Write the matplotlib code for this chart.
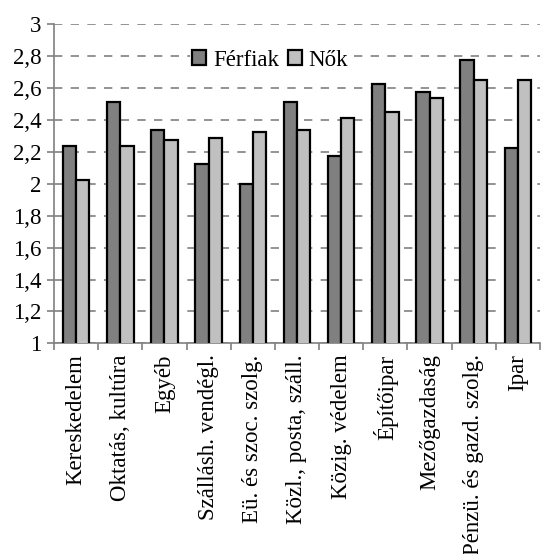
import numpy as np
import matplotlib
matplotlib.use("Agg")
import matplotlib.pyplot as plt
from matplotlib.ticker import FixedLocator, FuncFormatter

plt.rcParams["font.family"] = ["Liberation Serif", "DejaVu Serif"]

# adatok
categories = ["Kereskedelem", "Oktatás, kultúra", "Egyéb", "Szállásh. vendégl.",
              "Eü. és szoc. szolg.", "Közl., posta, száll.", "Közig. védelem",
              "Építőipar", "Mezőgazdaság", "Pénzü. és gazd. szolg.", "Ipar"]
ferfiak = [2.24, 2.515, 2.34, 2.125, 2.0, 2.515, 2.175, 2.625, 2.575, 2.775, 2.225]
nok = [2.025, 2.24, 2.275, 2.29, 2.325, 2.34, 2.415, 2.45, 2.54, 2.65, 2.65]
yticks = [1, 1.2, 1.4, 1.6, 1.8, 2, 2.2, 2.4, 2.6, 2.8, 3]

fs = 16.5

fig = plt.figure(figsize=(5.44, 5.54), dpi=100)
ax = fig.add_axes([0.0993, 0.3803, 0.8933, 0.5758])

x = np.arange(len(categories))
w = 0.3
ax.bar(x - w / 2, ferfiak, w, bottom=0, color="#808080", edgecolor="black",
       linewidth=1.6, label="Férfiak", zorder=3)
ax.bar(x + w / 2, nok, w, bottom=0, color="#c0c0c0", edgecolor="black",
       linewidth=1.6, label="Nők", zorder=3)

ax.set_ylim(1, 3)
ax.set_xlim(-0.5, len(categories) - 0.5)
ax.set_yticks(yticks)
ax.yaxis.set_major_formatter(FuncFormatter(lambda v, p: f"{v:g}".replace(".", ",")))
ax.yaxis.grid(True, linestyle=(0, (5, 5)), color="#808080", linewidth=1.2, zorder=0)
ax.set_axisbelow(True)

ax.set_xticks(x)
ax.set_xticklabels(categories, rotation=90, fontsize=fs)
ax.xaxis.set_minor_locator(FixedLocator(np.arange(-0.5, len(categories), 1)))
ax.tick_params(axis="x", which="major", length=0, pad=8)
ax.tick_params(axis="x", which="minor", length=5, color="#808080", width=1.2)
ax.tick_params(axis="y", length=5, color="#808080", width=1.2, labelsize=fs, pad=4)

for s in ["top", "right"]:
    ax.spines[s].set_visible(False)
for s in ["left", "bottom"]:
    ax.spines[s].set_color("#808080")
    ax.spines[s].set_linewidth(1.2)

leg = ax.legend(loc="center", bbox_to_anchor=(0.445, 0.8875), ncol=2, frameon=True,
                fontsize=fs, handlelength=0.6, handleheight=0.6, handletextpad=0.3,
                columnspacing=0.4, borderpad=0.1, borderaxespad=0)
leg.get_frame().set_edgecolor("none")
leg.get_frame().set_facecolor("white")
leg.get_frame().set_alpha(1)
for h in leg.legend_handles:
    h.set_linewidth(1.6)

fig.savefig("out.png", dpi=100)
